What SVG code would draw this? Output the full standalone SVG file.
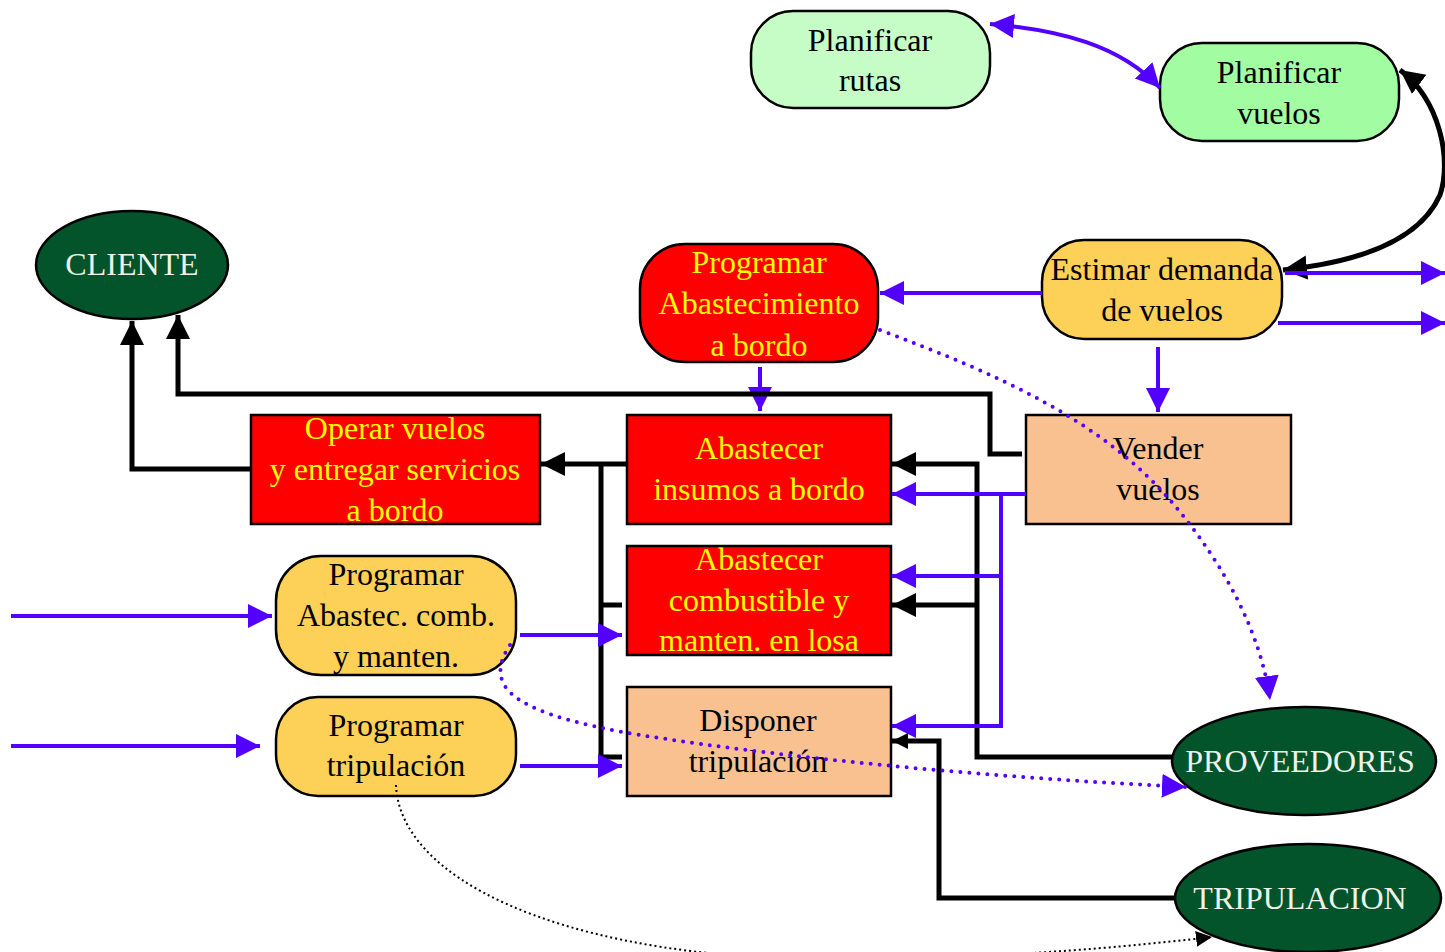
<svg xmlns="http://www.w3.org/2000/svg" width="1445" height="952" viewBox="0 0 1445 952">
  <style>
    .lbl { font-family: "Liberation Serif", "Times New Roman", serif; font-size: 32px; text-anchor: middle; }
    .dark { fill: #000; }
    .warm { fill: #ffff00; }
    .pale { fill: #eef2ea; }
    .box { stroke: #000; stroke-width: 2.5; }
    .red { fill: #ff0000; }
    .peach { fill: #f9c190; }
    .gold { fill: #fdd058; }
    .ext { fill: #03542a; stroke: #000; stroke-width: 2.5; }
    .blue { fill: none; stroke: #5200ff; stroke-width: 4; }
    .black { fill: none; stroke: #000; stroke-width: 5; }
    .bdot { fill: none; stroke: #5200ff; stroke-width: 4; stroke-linecap: round; stroke-dasharray: 0 9; }
    .kdot { fill: none; stroke: #000; stroke-width: 2; stroke-dasharray: 2 3; }
  </style>
  <defs>
    <marker id="ab" markerUnits="userSpaceOnUse" markerWidth="26" markerHeight="26" refX="24" refY="12" orient="auto">
      <path d="M0,0 L24,12 L0,24 z" fill="#5200ff"/>
    </marker>
    <marker id="abs" markerUnits="userSpaceOnUse" markerWidth="26" markerHeight="26" refX="24" refY="12" orient="auto-start-reverse">
      <path d="M0,0 L24,12 L0,24 z" fill="#5200ff"/>
    </marker>
    <marker id="ak" markerUnits="userSpaceOnUse" markerWidth="26" markerHeight="26" refX="24" refY="12" orient="auto">
      <path d="M0,0 L24,12 L0,24 z" fill="#000"/>
    </marker>
    <marker id="aks" markerUnits="userSpaceOnUse" markerWidth="26" markerHeight="26" refX="24" refY="12" orient="auto-start-reverse">
      <path d="M0,0 L24,12 L0,24 z" fill="#000"/>
    </marker>
    <marker id="akt" markerUnits="userSpaceOnUse" markerWidth="20" markerHeight="20" refX="16" refY="8" orient="auto">
      <path d="M0,0 L16,8 L0,16 z" fill="#000"/>
    </marker>
  </defs>

  <rect width="1445" height="952" fill="#fff"/>

  <!-- nodes -->
  <g id="planificar-rutas">
    <rect class="box" x="751" y="11" width="239" height="97" rx="42" fill="#c6fcc6"/>
    <text class="lbl dark" x="870" y="51">Planificar</text>
    <text class="lbl dark" x="870" y="91">rutas</text>
  </g>
  <g id="planificar-vuelos">
    <rect class="box" x="1160" y="43" width="239" height="98" rx="42" fill="#a2fca2"/>
    <text class="lbl dark" x="1279" y="83">Planificar</text>
    <text class="lbl dark" x="1279" y="124">vuelos</text>
  </g>
  <g id="estimar-demanda">
    <rect class="box gold" x="1042" y="240" width="240" height="99" rx="42"/>
    <text class="lbl dark" x="1162" y="280">Estimar demanda</text>
    <text class="lbl dark" x="1162" y="321">de vuelos</text>
  </g>
  <g id="programar-abastecimiento">
    <rect class="box red" x="640" y="244" width="238" height="118" rx="45"/>
    <text class="lbl warm" x="759" y="273">Programar</text>
    <text class="lbl warm" x="759" y="314">Abastecimiento</text>
    <text class="lbl warm" x="759" y="356">a bordo</text>
  </g>
  <g id="cliente">
    <ellipse class="ext" cx="132" cy="265" rx="96" ry="54"/>
    <text class="lbl pale" x="132" y="275">CLIENTE</text>
  </g>
  <g id="operar-vuelos">
    <rect class="box red" x="251" y="415" width="289" height="109"/>
    <text class="lbl warm" x="395" y="439">Operar vuelos</text>
    <text class="lbl warm" x="395" y="480">y entregar servicios</text>
    <text class="lbl warm" x="395" y="521">a bordo</text>
  </g>
  <g id="abastecer-insumos">
    <rect class="box red" x="627" y="415" width="264" height="109"/>
    <text class="lbl warm" x="759" y="459">Abastecer</text>
    <text class="lbl warm" x="759" y="500">insumos a bordo</text>
  </g>
  <g id="vender-vuelos">
    <rect class="box peach" x="1026" y="415" width="265" height="109"/>
    <text class="lbl dark" x="1158" y="459">Vender</text>
    <text class="lbl dark" x="1158" y="500">vuelos</text>
  </g>
  <g id="abastecer-combustible">
    <rect class="box red" x="627" y="546" width="264" height="109"/>
    <text class="lbl warm" x="759" y="570">Abastecer</text>
    <text class="lbl warm" x="759" y="611">combustible y</text>
    <text class="lbl warm" x="759" y="651">manten. en losa</text>
  </g>
  <g id="disponer-tripulacion">
    <rect class="box peach" x="627" y="687" width="264" height="109"/>
    <text class="lbl dark" x="758" y="731">Disponer</text>
    <text class="lbl dark" x="758" y="772">tripulación</text>
  </g>
  <g id="programar-combustible">
    <rect class="box gold" x="276" y="556" width="240" height="119" rx="45"/>
    <text class="lbl dark" x="396" y="585">Programar</text>
    <text class="lbl dark" x="396" y="626">Abastec. comb.</text>
    <text class="lbl dark" x="396" y="667">y manten.</text>
  </g>
  <g id="programar-tripulacion">
    <rect class="box gold" x="276" y="697" width="240" height="99" rx="42"/>
    <text class="lbl dark" x="396" y="736">Programar</text>
    <text class="lbl dark" x="396" y="776">tripulación</text>
  </g>
  <g id="proveedores">
    <ellipse class="ext" cx="1304" cy="761" rx="132" ry="54"/>
    <text class="lbl pale" x="1300" y="772">PROVEEDORES</text>
  </g>
  <g id="tripulacion">
    <ellipse class="ext" cx="1308" cy="898" rx="133" ry="54"/>
    <text class="lbl pale" x="1300" y="909">TRIPULACION</text>
  </g>

  <!-- connectors -->
  <g id="connectors">
    <!-- planning loop -->
    <path class="blue" d="M990,24 C1060,30 1120,45 1160,88" marker-start="url(#abs)" marker-end="url(#ab)"/>
    <path class="black" d="M1283,270 C1360,262 1420,240 1440,195 C1452,160 1440,100 1400,70" marker-start="url(#aks)" marker-end="url(#ak)"/>

    <!-- demand estimate outputs -->
    <path class="blue" d="M1285,273 H1445" marker-end="url(#ab)"/>
    <path class="blue" d="M1278,323 H1445" marker-end="url(#ab)"/>
    <path class="blue" d="M1042,293 H880" marker-end="url(#ab)"/>
    <path class="blue" d="M1158,347 V412" marker-end="url(#ab)"/>
    <path class="blue" d="M760,367 V411" marker-end="url(#ab)"/>

    <!-- to clients -->
    <path class="black" d="M1022,454 H990 V394 H178 V315" marker-end="url(#ak)"/>
    <path class="black" d="M251,469 H132 V321" marker-end="url(#ak)"/>

    <!-- ground services into flight operation -->
    <path class="black" d="M627,464 H541" marker-end="url(#ak)"/>
    <path class="black" d="M601,464 V757 H622"/>
    <path class="black" d="M601,605 H622"/>

    <!-- suppliers -->
    <path class="black" d="M1172,757 H977 V464 H892" marker-end="url(#ak)"/>
    <path class="black" d="M977,605 H892" marker-end="url(#ak)"/>

    <!-- sales to services -->
    <path class="blue" d="M1026,494 H892" marker-end="url(#ab)"/>
    <path class="blue" d="M1001,494 V726 H892" marker-end="url(#ab)"/>
    <path class="blue" d="M1001,576 H892" marker-end="url(#ab)"/>

    <!-- crew -->
    <path class="black" d="M1176,898 H939 V741 H892" marker-end="url(#akt)"/>

    <!-- schedules -->
    <path class="blue" d="M520,635 H622" marker-end="url(#ab)"/>
    <path class="blue" d="M520,766 H622" marker-end="url(#ab)"/>
    <path class="blue" d="M11,616 H272" marker-end="url(#ab)"/>
    <path class="blue" d="M11,746 H260" marker-end="url(#ab)"/>

    <!-- information flows -->
    <path class="bdot" d="M880,330 C1000,375 1100,420 1170,500 C1230,570 1262,640 1270,700" marker-end="url(#ab)"/>
    <path class="bdot" d="M510,645 C480,690 520,715 640,735 C800,760 1000,778 1186,787" marker-end="url(#ab)"/>
    <path class="kdot" d="M396,785 C400,880 560,950 780,958 C950,962 1100,950 1212,937" marker-end="url(#akt)"/>
  </g>
</svg>
